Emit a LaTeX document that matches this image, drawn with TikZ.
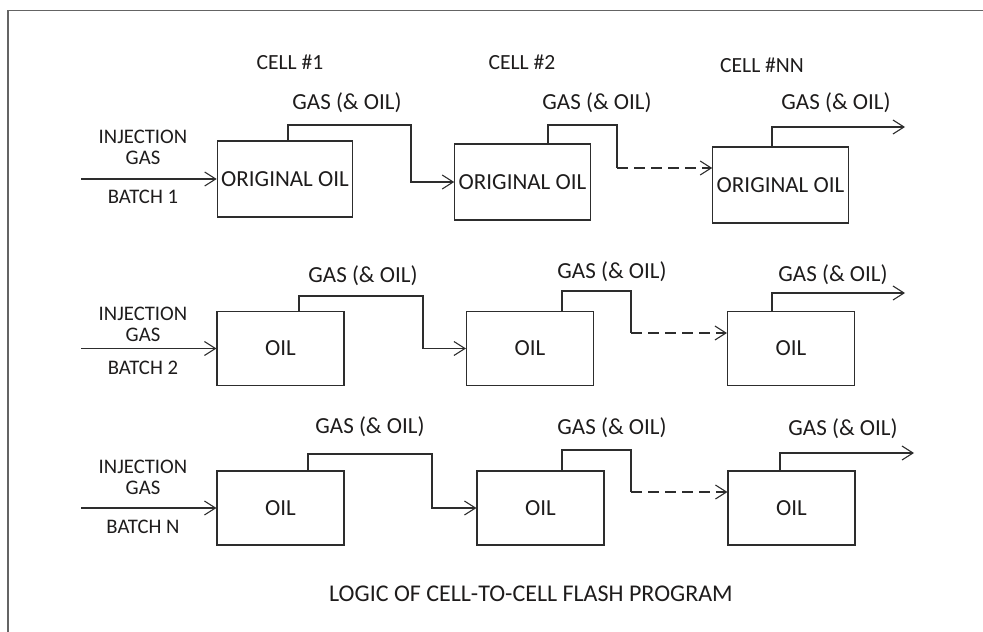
\documentclass[tikz,border=0pt]{standalone}
\usepackage{fontspec}
\setmainfont{Carlito}
\usepackage{tikz}
\usetikzlibrary{arrows.meta,positioning}
\definecolor{LineGrey}{RGB}{45,45,45}
\definecolor{TextGrey}{RGB}{30,28,28}
\definecolor{FrameGrey}{RGB}{100,100,100}

\begin{document}
\begin{tikzpicture}[
  x=1pt,y=-1pt,
  font=\fontsize{23}{26}\selectfont,
  cellbox/.style={rectangle,draw=LineGrey,line width=1.1pt,text=TextGrey,minimum width=127pt,minimum height=74pt,inner sep=0pt},
  origbox/.style={cellbox,minimum width=135.5pt,minimum height=76pt},
  lbl/.style={inner sep=0pt,text=TextGrey,align=center},
  celllbl/.style={lbl,font=\fontsize{21.6}{24}\selectfont},
  inlbl/.style={lbl,font=\fontsize{20.7}{21.5}\selectfont},
  pipe/.style={line width=1.1pt,draw=LineGrey},
  arr/.style={pipe,-{Straight Barb[length=11pt,width=14pt,line width=1.1pt]}},
  darr/.style={arr,dash pattern=on 11pt off 6pt}
]
\useasboundingbox (0,0) rectangle (983,632);
\draw[FrameGrey,line width=1.6pt] (8,632) -- (8,10.5) -- (983,10.5);

\node[celllbl] (cell1) at (290,62) {CELL \#1};
\node[celllbl] (cell2) at (522,62) {CELL \#2};
\node[celllbl] (celln) at (762,65) {CELL \#NN};

\node[origbox] (b1c1) at (285,179) {ORIGINAL OIL};
\node[origbox] (b1c2) at (522.5,182) {ORIGINAL OIL};
\node[origbox] (b1c3) at (780.5,185) {ORIGINAL OIL};
\node[inlbl] (inj1) at (143,147.5) {INJECTION\\GAS};
\node[inlbl] (bat1) at (143,197) {BATCH 1};
\node[lbl] (g11) at (347,103) {GAS (\& OIL)};
\node[lbl] (g12) at (597,103) {GAS (\& OIL)};
\node[lbl] (g13) at (836,103) {GAS (\& OIL)};
\coordinate (i1) at (81,179);
\coordinate (d1) at (617,168);
\coordinate (o1) at (905,127);
\draw[arr] (i1) -- (b1c1.west);
\draw[arr] ([xshift=3pt]b1c1.north) |- (411,125) |- (b1c2.west);
\draw[pipe] ([xshift=25.5pt]b1c2.north) |- (617,125) -- (d1);
\draw[darr] (d1) -- (d1 -| b1c3.west);
\draw[arr] ([xshift=-8.5pt]b1c3.north) |- (o1);

\node[cellbox] (b2c1) at (280.5,348.5) {OIL};
\node[cellbox] (b2c2) at (530,348.5) {OIL};
\node[cellbox] (b2c3) at (791,348.5) {OIL};
\node[inlbl] (inj2) at (143,324.5) {INJECTION\\GAS};
\node[inlbl] (bat2) at (143,368) {BATCH 2};
\node[lbl] (g21) at (363,276) {GAS (\& OIL)};
\node[lbl] (g22) at (612,272) {GAS (\& OIL)};
\node[lbl] (g23) at (833,275) {GAS (\& OIL)};
\coordinate (i2) at (81,348.5);
\coordinate (d2) at (631,333);
\coordinate (o2) at (905,293);
\draw[arr] (i2) -- (b2c1.west);
\draw[arr] ([xshift=18.5pt]b2c1.north) |- (423,296) |- (b2c2.west);
\draw[pipe] ([xshift=32pt]b2c2.north) |- (631,291) -- (d2);
\draw[darr] (d2) -- (d2 -| b2c3.west);
\draw[arr] ([xshift=-19pt]b2c3.north) |- (o2);

\node[cellbox] (b3c1) at (280.5,508) {OIL};
\node[cellbox] (b3c2) at (540.5,508) {OIL};
\node[cellbox] (b3c3) at (791.5,508) {OIL};
\node[inlbl] (inj3) at (143,477.5) {INJECTION\\GAS};
\node[inlbl] (bat3) at (143,527) {BATCH N};
\node[lbl] (g31) at (370,427) {GAS (\& OIL)};
\node[lbl] (g32) at (612,428) {GAS (\& OIL)};
\node[lbl] (g33) at (843,429) {GAS (\& OIL)};
\coordinate (i3) at (81,508);
\coordinate (d3) at (631,492);
\coordinate (o3) at (914,453);
\draw[arr] (i3) -- (b3c1.west);
\draw[arr] ([xshift=27.5pt]b3c1.north) |- (432,454) |- (b3c2.west);
\draw[pipe] ([xshift=21.5pt]b3c2.north) |- (631,450) -- (d3);
\draw[darr] (d3) -- (d3 -| b3c3.west);
\draw[arr] ([xshift=-11.5pt]b3c3.north) |- (o3);

\node[lbl,font=\fontsize{24}{27}\selectfont] (title) at (531,594) {LOGIC OF CELL-TO-CELL FLASH PROGRAM};
\end{tikzpicture}
\end{document}
